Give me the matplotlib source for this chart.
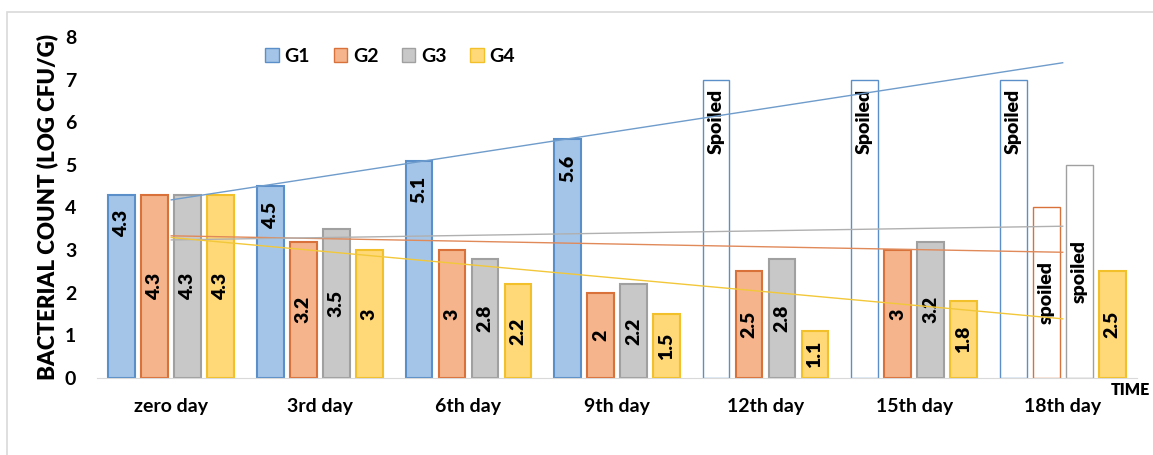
import numpy as np
import matplotlib.pyplot as plt
from matplotlib.patches import Rectangle

plt.rcParams['font.family'] = ['Lato', 'DejaVu Sans']

days = ['zero day', '3rd day', '6th day', '9th day', '12th day', '15th day', '18th day']
groups = ['G1', 'G2', 'G3', 'G4']

# spoiled samples are drawn as empty outlines at the plotted height
g1 = [4.3, 4.5, 5.1, 5.6, 7, 7, 7]
g2 = [4.3, 3.2, 3, 2, 2.5, 3, 4]
g3 = [4.3, 3.5, 2.8, 2.2, 2.8, 3.2, 5]
g4 = [4.3, 3, 2.2, 1.5, 1.1, 1.8, 2.5]
g1_spoiled = [False, False, False, False, True, True, True]
g2_spoiled = [False, False, False, False, False, False, True]
g3_spoiled = [False, False, False, False, False, False, True]
g4_spoiled = [False] * 7

series = [g1, g2, g3, g4]
spoiled = [g1_spoiled, g2_spoiled, g3_spoiled, g4_spoiled]
spoiled_text = ['Spoiled', 'spoiled', 'spoiled', 'spoiled']
fills = ['#A4C5E8', '#F5B48C', '#C8C8C8', '#FFD977']
edges = ['#5B8FC9', '#D9713A', '#A0A0A0', '#F2C02A']
trend_colors = ['#6F9CCB', '#E08A5A', '#B0B0B0', '#F2C83A']
label_inside_end = [True, False, False, False]

fig = plt.figure(figsize=(11.53, 4.55), dpi=100)
fig.patches.append(Rectangle((7 / 1153, -0.1), 1.2, 1.1 - 12 / 455,
                             transform=fig.transFigure, fill=False,
                             edgecolor='#D9D9D9', linewidth=1.2))
ax = fig.add_axes([0.0841, 0.169, 0.902, 0.750])

x = np.arange(len(days))
width = 0.18
pitch = 0.222
lab_kw = dict(rotation=90, ha='center', fontsize=14, fontweight='heavy')

for i, vals in enumerate(series):
    pos = x + (i - 1.5) * pitch
    for j, v in enumerate(vals):
        if spoiled[i][j]:
            ax.bar(pos[j], v, width, facecolor='none', edgecolor=edges[i], linewidth=1.0, zorder=2)
            lab = spoiled_text[i]
        else:
            ax.bar(pos[j], v, width, facecolor=fills[i], edgecolor=edges[i], linewidth=1.5, zorder=2)
            lab = f'{v:g}'
        if label_inside_end[i]:
            off = -7 if spoiled[i][j] else -11
            ax.annotate(lab, (pos[j], v), xytext=(0, off), textcoords='offset points',
                        va='top', **lab_kw)
        else:
            ax.text(pos[j], v / 2, lab, va='center', **lab_kw)

# linear trend lines per group
for i, vals in enumerate(series):
    k, b = np.polyfit(x + 1, vals, 1)
    ax.plot([x[0], x[-1]], [k * (x[0] + 1) + b, k * (x[-1] + 1) + b],
            color=trend_colors[i], linewidth=1.0, zorder=3)

ax.set_xlim(-0.5, 6.5)
ax.set_ylim(0, 8)
ax.set_yticks(range(0, 9))
ax.set_xticks(x)
ax.set_xticklabels(days)
ax.tick_params(axis='both', length=0)
ax.tick_params(axis='y', pad=15, labelsize=14)
ax.tick_params(axis='x', pad=14, labelsize=14)
for lab in ax.get_xticklabels() + ax.get_yticklabels():
    lab.set_fontweight('bold')
for s in ['left', 'right', 'top']:
    ax.spines[s].set_visible(False)
ax.spines['bottom'].set_color('#D9D9D9')
ax.set_ylabel('BACTERIAL COUNT (LOG CFU/G)', fontsize=16, fontweight='heavy', labelpad=5)

ax.text(1.0125, -0.012, 'TIME', transform=ax.transAxes, ha='right', va='top',
        fontsize=11.5, fontweight='heavy')

handles = [Rectangle((0, 0), 1, 1, facecolor=fills[i], edgecolor=edges[i]) for i in range(4)]
ax.legend(handles, groups, loc='upper left', bbox_to_anchor=(0.145, 1.02), ncol=4,
          frameon=False, prop={'weight': 'bold', 'size': 14},
          handlelength=0.7, handleheight=0.7, handletextpad=0.3, columnspacing=1.2)

fig.savefig('out.png', dpi=100)
